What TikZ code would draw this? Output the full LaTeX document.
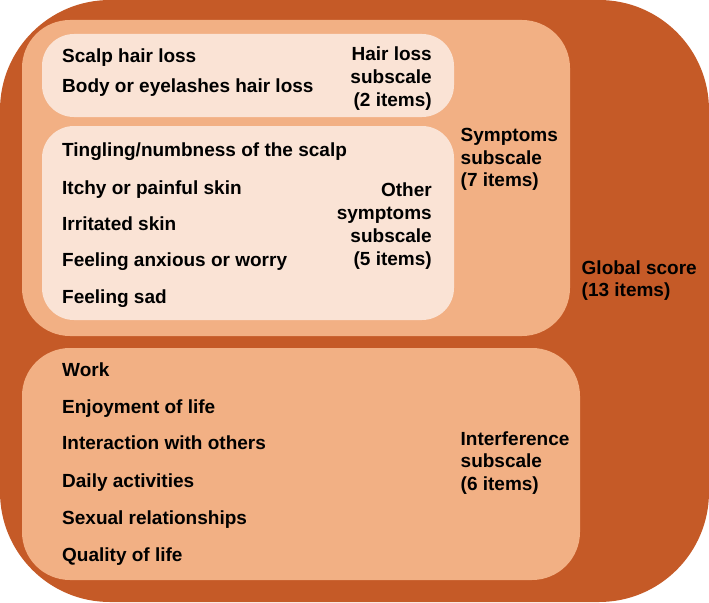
\documentclass[tikz,border=0pt]{standalone}
\usepackage{fontspec}
\setmainfont{Liberation Sans}
\definecolor{outerc}{HTML}{C55A27}
\definecolor{midc}{HTML}{F2B084}
\definecolor{lightc}{HTML}{FAE3D5}
\tikzset{
  item/.style={anchor=base west, inner sep=0pt, font=\bfseries\fontsize{19}{23}\selectfont},
  rlabel/.style={anchor=base east, inner sep=0pt, align=right, font=\bfseries\fontsize{19}{23}\selectfont},
  llabel/.style={anchor=base west, inner sep=0pt, align=left, font=\bfseries\fontsize{19}{22.5}\selectfont},
}
\begin{document}
\begin{tikzpicture}[x=1pt,y=-1pt]
\useasboundingbox (0,0) rectangle (709,602);
% containers
\fill[outerc, rounded corners=110pt] (0,0) rectangle (709,602);
\coordinate (outer) at (354.5,301);
\fill[midc, rounded corners=48pt] (22,20) rectangle (570,336);
\coordinate (symptoms) at (296,178);
\fill[lightc, rounded corners=32pt] (42,34) rectangle (454,117);
\coordinate (hairloss) at (248,75);
\fill[lightc, rounded corners=32pt] (42,126) rectangle (454,320);
\coordinate (other) at (248,223);
\fill[midc, rounded corners=48pt] (22,348) rectangle (580,580);
\coordinate (interf) at (301,464);
% hair loss items
\node[item] (h1) at (62,62.7) {Scalp hair loss};
\node[item] (h2) at (62,92.7) {Body or eyelashes hair loss};
\node[rlabel] (hl) at (432,106) {Hair loss\\subscale\\(2 items)};
% other symptoms items
\node[item] (o1) at (62,156.7) {Tingling/numbness of the scalp};
\node[item] (o2) at (62,194) {Itchy or painful skin};
\node[item] (o3) at (62,230) {Irritated skin};
\node[item] (o4) at (62,266.7) {Feeling anxious or worry};
\node[item] (o5) at (62,303.3) {Feeling sad};
\node[rlabel] (ol) at (432,265.5) {Other\\symptoms\\subscale\\(5 items)};
% symptoms label
\node[llabel] (sl) at (460.5,186.7) {Symptoms\\subscale\\(7 items)};
% global
\node[llabel] (gl) at (581.5,296.7) {Global score\\(13 items)};
% interference items
\node[item] (i1) at (62,376.5) {Work};
\node[item] (i2) at (62,413.5) {Enjoyment of life};
\node[item] (i3) at (62,449.5) {Interaction with others};
\node[item] (i4) at (62,487.5) {Daily activities};
\node[item] (i5) at (62,524.5) {Sexual relationships};
\node[item] (i6) at (62,561.5) {Quality of life};
\node[llabel] (il) at (460.5,490) {Interference\\subscale\\(6 items)};
\end{tikzpicture}
\end{document}
